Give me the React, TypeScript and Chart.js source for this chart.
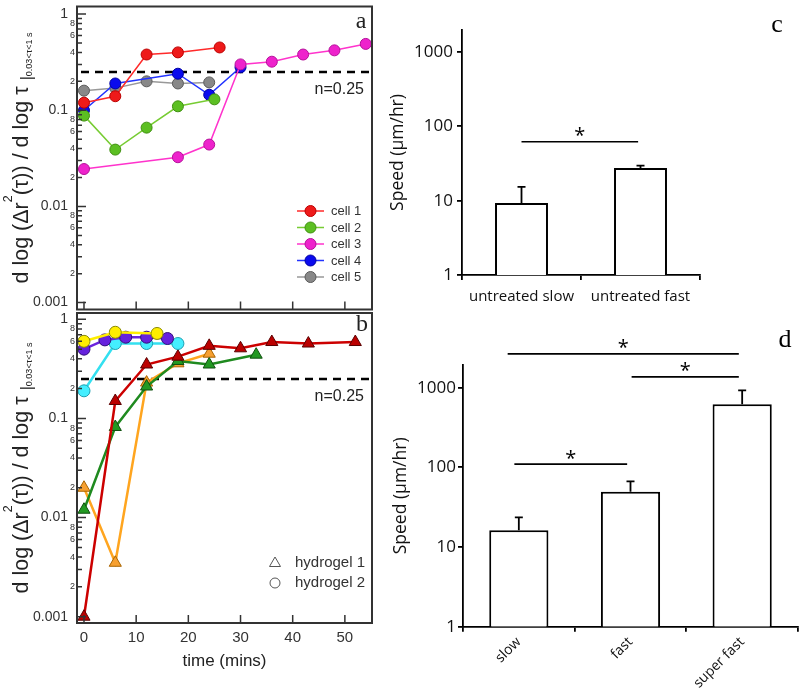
import React, { useEffect, useRef } from 'react';
import { Chart, registerables } from 'chart.js';
Chart.register(...registerables);

const SANS = '"Liberation Sans", Arial, Helvetica, sans-serif';
const OPEN = '"Open Sans", "Liberation Sans", sans-serif';
const SERIF = '"Liberation Serif", "Times New Roman", serif';

// ---------------- Panel a: cells ----------------
const CELL_NAMES = ['cell 1', 'cell 2', 'cell 3', 'cell 4', 'cell 5'];
const CELL1_T = [0, 6, 12, 18, 26];
const CELL1_V = [0.12, 0.14, 0.38, 0.4, 0.45];
const CELL2_T = [0, 6, 12, 18, 25];
const CELL2_V = [0.088, 0.039, 0.066, 0.11, 0.13];
const CELL3_T = [0, 18, 24, 30, 36, 42, 48, 54];
const CELL3_V = [0.0245, 0.0325, 0.044, 0.3, 0.32, 0.38, 0.42, 0.49];
const CELL4_T = [0, 6, 18, 24, 30];
const CELL4_V = [0.1, 0.19, 0.24, 0.145, 0.28];
const CELL5_T = [0, 6, 12, 18, 24];
const CELL5_V = [0.16, 0.17, 0.2, 0.19, 0.195];

// ---------------- Panel b: hydrogels ----------------
const HYDROGEL_NAMES = ['hydrogel 1', 'hydrogel 2'];
const H1_RED_T = [0, 6, 12, 18, 24, 30, 36, 43, 52];
const H1_RED_V = [0.001, 0.15, 0.35, 0.42, 0.54, 0.51, 0.59, 0.57, 0.59];
const H1_GREEN_T = [0, 6, 12, 18, 24, 33];
const H1_GREEN_V = [0.012, 0.082, 0.21, 0.38, 0.35, 0.44];
const H1_ORANGE_T = [0, 6, 12, 18, 24];
const H1_ORANGE_V = [0.02, 0.0035, 0.23, 0.36, 0.45];
const H2_YELLOW_T = [0, 6, 14];
const H2_YELLOW_V = [0.6, 0.74, 0.72];
const H2_PURPLE_T = [0, 4, 8, 12, 16];
const H2_PURPLE_V = [0.5, 0.62, 0.66, 0.66, 0.64];
const H2_CYAN_T = [0, 6, 12, 18];
const H2_CYAN_V = [0.19, 0.57, 0.57, 0.57];

const N_THRESHOLD = 0.25;
const N_LABEL = 'n=0.25';

// axis ticks for a/b
const X_TICKS = [0, 10, 20, 30, 40, 50];
const X_MIN = -1.34;
const X_MAX = 55.2;
const DECADES = [0.001, 0.01, 0.1, 1];
const MINOR_MULTS = [2, 3, 4, 5, 6, 7, 8, 9];
const MINOR_LABELED = [2, 4, 6, 8];
const A_Y_MIN = 0.000848;
const A_Y_MAX = 1.2;
const B_Y_MIN = 0.000864;
const B_Y_MAX = 1.158;

// ---------------- Panel c ----------------
const C_CATS = ['untreated slow', 'untreated fast'];
const C_SPEED = [9.3, 27.5];
const C_ERR_TOP = [15.3, 29.6];
const C_SIG_FROM = [0];
const C_SIG_TO = [0.98];
const C_SIG_LEVEL = [62];

// ---------------- Panel d ----------------
const D_CATS = ['slow', 'fast', 'super fast'];
const D_SPEED = [16.3, 49.4, 622];
const D_ERR_TOP = [23.6, 66.7, 925];
const D_SIG_FROM = [-0.04, 1.01, -0.1];
const D_SIG_TO = [0.97, 1.97, 1.97];
const D_SIG_LEVEL = [110, 1371, 2663];

const SPEED_TICKS = [1, 10, 100, 1000];
const SPEED_TITLE = 'Speed (µm/hr)';

// ---------------- helpers ----------------
const LOG_TICK_VALUES: number[] = [];
DECADES.forEach((d, i) => {
  LOG_TICK_VALUES.push(d);
  if (i < DECADES.length - 1) MINOR_MULTS.forEach((m) => LOG_TICK_VALUES.push(+(d * m).toPrecision(3)));
});
const isMajor = (v: number) => DECADES.some((d) => Math.abs(d - v) / d < 1e-6);
const sig = (v: number) => Math.round(v / Math.pow(10, Math.floor(Math.log10(v) + 1e-9)));
const yTickLabel = (v: number) => {
  if (isMajor(v)) return String(v) + '\u2002';
  const s = sig(v);
  return MINOR_LABELED.includes(s) ? String(s) : '';
};

const fix = (w?: number, h?: number) => (scale: any) => {
  if (w !== undefined) scale.width = w;
  if (h !== undefined) scale.height = h;
  scale.paddingTop = 0;
  scale.paddingBottom = 0;
  scale.paddingLeft = 0;
  scale.paddingRight = 0;
};

const pts = (T: number[], V: number[]) => T.map((t, i) => ({ x: t, y: V[i] }));

function drawYLabel(ctx: CanvasRenderingContext2D, baseX: number, centerY: number) {
  const S = 21.5;
  const segs = [
    { t: 'd log (Δr', k: 1, dy: 0 },
    { t: '2', k: 0.58, dy: -0.74 },
    { t: '(τ)) / d log τ ', k: 1, dy: 0 },
    { t: '|', k: 0.75, dy: 0.17 },
    { t: '0.03<τ<1 s', k: 0.42, dy: 0.19 },
  ];
  let total = 0;
  segs.forEach((s) => {
    ctx.font = `${s.k * S}px ${SANS}`;
    total += ctx.measureText(s.t).width;
  });
  ctx.save();
  ctx.translate(baseX, centerY);
  ctx.rotate(-Math.PI / 2);
  ctx.fillStyle = '#222';
  ctx.textAlign = 'left';
  ctx.textBaseline = 'alphabetic';
  let u = -total / 2;
  segs.forEach((s) => {
    ctx.font = `${s.k * S}px ${SANS}`;
    ctx.fillText(s.t, u, s.dy * S);
    u += ctx.measureText(s.t).width;
  });
  ctx.restore();
}

function timePanelPlugin(letter: string, letterX: number, letterY: number, legend: (chart: any) => void) {
  return {
    id: 'timePanel' + letter,
    beforeDatasetsDraw(chart: any) {
      const { ctx, chartArea: ca, scales } = chart;
      const py = scales.y.getPixelForValue(N_THRESHOLD);
      ctx.save();
      ctx.strokeStyle = '#000';
      ctx.lineWidth = 2.5;
      ctx.setLineDash([8, 6]);
      ctx.beginPath();
      ctx.moveTo(ca.left + 4, py);
      ctx.lineTo(ca.right, py);
      ctx.stroke();
      ctx.setLineDash([]);
      ctx.fillStyle = '#222';
      ctx.font = `16px ${SANS}`;
      ctx.textAlign = 'right';
      ctx.textBaseline = 'middle';
      ctx.fillText(N_LABEL, ca.right - 8, py + 18);
      ctx.restore();
    },
    afterDraw(chart: any) {
      const { ctx, chartArea: ca, scales } = chart;
      ctx.save();
      ctx.strokeStyle = '#333';
      ctx.lineWidth = 1.5;
      ctx.beginPath();
      LOG_TICK_VALUES.forEach((v) => {
        const py = scales.y.getPixelForValue(v);
        if (py < ca.top || py > ca.bottom) return;
        const len = isMajor(v) ? 9 : 5;
        ctx.moveTo(ca.left, py);
        ctx.lineTo(ca.left + len, py);
      });
      X_TICKS.forEach((v) => {
        const px = scales.x.getPixelForValue(v);
        ctx.moveTo(px, ca.bottom);
        ctx.lineTo(px, ca.bottom - 8);
      });
      ctx.stroke();
      ctx.lineWidth = 2;
      ctx.strokeRect(ca.left, ca.top, ca.right - ca.left, ca.bottom - ca.top);
      ctx.fillStyle = '#222';
      ctx.font = `24px ${SERIF}`;
      ctx.textAlign = 'center';
      ctx.textBaseline = 'middle';
      ctx.fillText(letter, letterX, letterY);
      drawYLabel(ctx, 28, (ca.top + ca.bottom) / 2);
      legend(chart);
      ctx.restore();
    },
  };
}

function timeScales(yMin: number, yMax: number, showX: boolean, xHeight: number) {
  return {
    x: {
      type: 'linear',
      min: X_MIN,
      max: X_MAX,
      afterBuildTicks: (s: any) => {
        s.ticks = X_TICKS.map((v) => ({ value: v }));
      },
      grid: { display: false, drawTicks: false },
      border: { display: false },
      ticks: {
        display: showX,
        autoSkip: false,
        maxRotation: 0,
        padding: 6,
        color: '#333',
        font: { family: SANS, size: 15 },
      },
      title: showX
        ? { display: true, text: 'time (mins)', color: '#222', font: { family: SANS, size: 17 }, padding: { top: 0, bottom: 22 } }
        : { display: false },
      afterFit: fix(undefined, xHeight),
    },
    y: {
      type: 'logarithmic',
      min: yMin,
      max: yMax,
      afterBuildTicks: (s: any) => {
        s.ticks = LOG_TICK_VALUES.map((v) => ({ value: v }));
      },
      grid: { display: false, drawTicks: false },
      border: { display: false },
      ticks: {
        autoSkip: false,
        padding: 2,
        color: '#333',
        font: (c: any) => ({ family: SANS, size: c.tick && isMajor(c.tick.value) ? 14 : 9 }),
        callback: (v: any) => yTickLabel(Number(v)),
      },
      afterFit: fix(77, undefined),
    },
  };
}

const cellStyle = (line: string, fill: string, border: string) => ({
  borderColor: line,
  backgroundColor: fill,
  pointBackgroundColor: fill,
  pointBorderColor: border,
  pointRadius: 5.5,
  pointBorderWidth: 1,
  borderWidth: 1.5,
  tension: 0,
  fill: false,
});

function configA() {
  const datasets = [
    { label: CELL_NAMES[0], data: pts(CELL1_T, CELL1_V), ...cellStyle('#ff2a2a', '#ee1a1a', '#bb0000') },
    { label: CELL_NAMES[1], data: pts(CELL2_T, CELL2_V), ...cellStyle('#77cc33', '#5cbf22', '#3f8f10') },
    { label: CELL_NAMES[2], data: pts(CELL3_T, CELL3_V), ...cellStyle('#ff33cc', '#ee22cc', '#b5109a') },
    { label: CELL_NAMES[3], data: pts(CELL4_T, CELL4_V), ...cellStyle('#2233ff', '#0a0aee', '#0000a0') },
    { label: CELL_NAMES[4], data: pts(CELL5_T, CELL5_V), ...cellStyle('#999999', '#888888', '#5a5a5a') },
  ];
  const legend = (chart: any) => {
    const { ctx } = chart;
    chart.data.datasets.forEach((ds: any, i: number) => {
      const y = 211 + i * 16.5;
      ctx.strokeStyle = ds.borderColor;
      ctx.lineWidth = 1.5;
      ctx.beginPath();
      ctx.moveTo(297, y);
      ctx.lineTo(324, y);
      ctx.stroke();
      ctx.beginPath();
      ctx.arc(310.5, y, 5.5, 0, Math.PI * 2);
      ctx.fillStyle = ds.pointBackgroundColor;
      ctx.fill();
      ctx.strokeStyle = ds.pointBorderColor;
      ctx.lineWidth = 1;
      ctx.stroke();
      ctx.fillStyle = '#333';
      ctx.font = `13px ${SANS}`;
      ctx.textAlign = 'left';
      ctx.textBaseline = 'middle';
      ctx.fillText(ds.label, 331, y + 0.5);
    });
  };
  return {
    type: 'line',
    data: { datasets },
    options: {
      responsive: false,
      animation: false,
      events: [],
      layout: { padding: { left: 0, top: 5, right: 8, bottom: 3 } },
      plugins: { legend: { display: false }, tooltip: { enabled: false } },
      scales: timeScales(A_Y_MIN, A_Y_MAX, false, 0),
    },
    plugins: [timePanelPlugin('a', 361, 22, legend)],
  };
}

const hydStyle = (line: string, fill: string, border: string, shape: string) => ({
  borderColor: line,
  backgroundColor: fill,
  pointBackgroundColor: fill,
  pointBorderColor: border,
  pointStyle: shape,
  pointRadius: shape === 'triangle' ? 7 : 6,
  pointBorderWidth: 1,
  borderWidth: 2.5,
  tension: 0,
  fill: false,
});

function configB() {
  const datasets = [
    { label: HYDROGEL_NAMES[1], data: pts(H2_YELLOW_T, H2_YELLOW_V), ...hydStyle('#ffee00', '#ffee00', '#8a8a00', 'circle') },
    { label: HYDROGEL_NAMES[1], data: pts(H2_PURPLE_T, H2_PURPLE_V), ...hydStyle('#6a22dd', '#6622dd', '#33107a', 'circle') },
    { label: HYDROGEL_NAMES[1], data: pts(H2_CYAN_T, H2_CYAN_V), ...hydStyle('#33e0f0', '#44eeff', '#1c9fb0', 'circle') },
    { label: HYDROGEL_NAMES[0], data: pts(H1_RED_T, H1_RED_V), ...hydStyle('#cc0000', '#bb0000', '#5a0000', 'triangle') },
    { label: HYDROGEL_NAMES[0], data: pts(H1_GREEN_T, H1_GREEN_V), ...hydStyle('#1f8a1f', '#229922', '#0f4f0f', 'triangle') },
    { label: HYDROGEL_NAMES[0], data: pts(H1_ORANGE_T, H1_ORANGE_V), ...hydStyle('#ffa51f', '#f7a030', '#a86400', 'triangle') },
  ];
  const legend = (chart: any) => {
    const { ctx } = chart;
    const rows = [
      { y: 263, shape: 'triangle', text: HYDROGEL_NAMES[0] },
      { y: 283, shape: 'circle', text: HYDROGEL_NAMES[1] },
    ];
    rows.forEach((r) => {
      ctx.strokeStyle = '#555';
      ctx.lineWidth = 1;
      ctx.beginPath();
      if (r.shape === 'triangle') {
        ctx.moveTo(275, r.y - 6);
        ctx.lineTo(280.5, r.y + 3.5);
        ctx.lineTo(269.5, r.y + 3.5);
        ctx.closePath();
      } else {
        ctx.arc(275, r.y, 5, 0, Math.PI * 2);
      }
      ctx.stroke();
      ctx.fillStyle = '#333';
      ctx.font = `15px ${SANS}`;
      ctx.textAlign = 'left';
      ctx.textBaseline = 'middle';
      ctx.fillText(r.text, 295, r.y);
    });
  };
  return {
    type: 'line',
    data: { datasets },
    options: {
      responsive: false,
      animation: false,
      events: [],
      layout: { padding: { left: 0, top: 13, right: 8, bottom: 0 } },
      plugins: { legend: { display: false }, tooltip: { enabled: false } },
      scales: timeScales(B_Y_MIN, B_Y_MAX, true, 71),
    },
    plugins: [timePanelPlugin('b', 362, 25, legend)],
  };
}

function barPlugin(id: string, errs: number[], sFrom: number[], sTo: number[], sLvl: number[], letter: string, lx: number, ly: number) {
  return {
    id,
    afterDraw(chart: any) {
      const { ctx, scales } = chart;
      const meta = chart.getDatasetMeta(0);
      ctx.save();
      ctx.strokeStyle = '#000';
      ctx.lineWidth = 1.8;
      meta.data.forEach((bar: any, i: number) => {
        const yTop = scales.y.getPixelForValue(errs[i]);
        ctx.beginPath();
        ctx.moveTo(bar.x, bar.y);
        ctx.lineTo(bar.x, yTop);
        ctx.moveTo(bar.x - 4, yTop);
        ctx.lineTo(bar.x + 4, yTop);
        ctx.stroke();
      });
      const x0 = scales.x.getPixelForValue(0);
      const x1 = scales.x.getPixelForValue(1);
      const fx = (f: number) => x0 + f * (x1 - x0);
      ctx.font = `20px ${OPEN}`;
      ctx.fillStyle = '#000';
      ctx.textAlign = 'center';
      ctx.textBaseline = 'alphabetic';
      sLvl.forEach((lvl, i) => {
        const y = scales.y.getPixelForValue(lvl);
        const a = fx(sFrom[i]);
        const b = fx(sTo[i]);
        ctx.lineWidth = 1.6;
        ctx.beginPath();
        ctx.moveTo(a, y);
        ctx.lineTo(b, y);
        ctx.stroke();
        const m = ctx.measureText('*');
        const asc = m.actualBoundingBoxAscent;
        const desc = m.actualBoundingBoxDescent;
        const cy = y - 10;
        ctx.fillText('*', (a + b) / 2, cy + (asc - desc) / 2);
      });
      ctx.font = `26px ${SERIF}`;
      ctx.textBaseline = 'middle';
      ctx.fillText(letter, lx, ly);
      ctx.restore();
    },
  };
}

function barConfig(
  cats: string[],
  vals: number[],
  errs: number[],
  sFrom: number[],
  sTo: number[],
  sLvl: number[],
  o: any
) {
  return {
    type: 'bar',
    data: {
      labels: cats,
      datasets: [
        {
          data: vals,
          backgroundColor: '#ffffff',
          borderColor: '#000000',
          borderWidth: 2,
          barPercentage: o.barPct,
          categoryPercentage: 1,
        },
      ],
    },
    options: {
      responsive: false,
      animation: false,
      events: [],
      layout: { padding: o.padding },
      plugins: { legend: { display: false }, tooltip: { enabled: false } },
      scales: {
        x: {
          type: 'category',
          offset: true,
          grid: { display: true, drawOnChartArea: false, drawTicks: true, tickLength: 5, offset: true, color: '#000', lineWidth: 1.8 },
          border: { display: true, color: '#000', width: 1.8 },
          ticks: {
            color: '#111',
            padding: o.xPad,
            autoSkip: false,
            maxRotation: o.rot,
            minRotation: o.rot,
            font: { family: OPEN, size: o.xFont },
          },
          afterFit: fix(undefined, o.xHeight),
        },
        y: {
          type: 'logarithmic',
          min: 1,
          max: o.yMax,
          afterBuildTicks: (s: any) => {
            s.ticks = SPEED_TICKS.map((v) => ({ value: v }));
          },
          grid: { display: true, drawOnChartArea: false, drawTicks: true, tickLength: 5, color: '#000', lineWidth: 1.8 },
          border: { display: true, color: '#000', width: 1.8 },
          ticks: {
            color: '#111',
            padding: o.yPad,
            autoSkip: false,
            font: { family: OPEN, size: 17 },
            callback: (v: any) => String(v),
          },
          title: {
            display: true,
            text: SPEED_TITLE,
            color: '#111',
            font: { family: OPEN, size: 17.5 },
            padding: { top: o.titlePad, bottom: 0 },
          },
          afterFit: fix(o.yWidth, undefined),
        },
      },
    },
    plugins: [barPlugin('bars' + o.letter, errs, sFrom, sTo, sLvl, o.letter, o.lx, o.ly)],
  };
}

function configC() {
  return barConfig(C_CATS, C_SPEED, C_ERR_TOP, C_SIG_FROM, C_SIG_TO, C_SIG_LEVEL, {
    barPct: 0.445,
    padding: { left: 0, top: 30, right: 100, bottom: 0 },
    xPad: 8,
    rot: 0,
    xFont: 15,
    xHeight: 45,
    yMax: 1977,
    yPad: 4,
    titlePad: 8,
    yWidth: 82,
    letter: 'c',
    lx: 397,
    ly: 25,
  });
}

function configD() {
  return barConfig(D_CATS, D_SPEED, D_ERR_TOP, D_SIG_FROM, D_SIG_TO, D_SIG_LEVEL, {
    barPct: 0.53,
    padding: { left: 0, top: 45, right: 2, bottom: 0 },
    xPad: 2,
    rot: 45,
    xFont: 14,
    xHeight: 67.3,
    yMax: 1930,
    yPad: 2,
    titlePad: 11,
    yWidth: 83,
    letter: 'd',
    lx: 405,
    ly: 20,
  });
}

function ChartCanvas({ make, left, top, width, height }: any) {
  const ref = useRef<HTMLCanvasElement | null>(null);
  useEffect(() => {
    if (!ref.current) return;
    const chart = new Chart(ref.current, make());
    return () => chart.destroy();
  }, []);
  return (
    <canvas
      ref={ref}
      width={width}
      height={height}
      style={{ position: 'absolute', left, top, width, height }}
    />
  );
}

export default function App() {
  return (
    <div style={{ position: 'fixed', left: 0, top: 0, width: 800, height: 694, background: '#fff', overflow: 'hidden' }}>
      <ChartCanvas make={configA} left={0} top={0} width={380} height={316} />
      <ChartCanvas make={configB} left={0} top={300} width={380} height={394} />
      <ChartCanvas make={configC} left={380} top={0} width={420} height={320} />
      <ChartCanvas make={configD} left={380} top={320} width={420} height={374} />
    </div>
  );
}
